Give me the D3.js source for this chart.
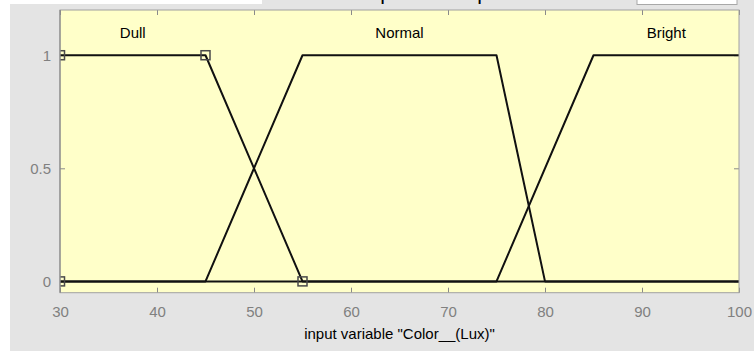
<!DOCTYPE html>
<html>
<head>
<meta charset="utf-8">
<script src="https://cdn.jsdelivr.net/npm/d3@7"></script>
<style>
  html, body { margin: 0; padding: 0; background: #ffffff; }
  svg { display: block; font-family: "Liberation Sans", Arial, Helvetica, sans-serif; }
</style>
</head>
<body>
<svg id="chart" width="754" height="351"></svg>
<script>
// Membership functions of the input variable "Color__(Lux)"
const xTicks = [30, 40, 50, 60, 70, 80, 90, 100];
const yTicks = [0, 0.5, 1];
const yTickLabels = ["0", "0.5", "1"];

const mfNames = ["Dull", "Normal", "Bright"];
const labelX = [37.5, 65, 92.5];   // centre of each plateau
const labelY = 1.1;

// trapezoid vertices of each membership function
const dullX = [30, 45, 55, 100];
const dullY = [1, 1, 0, 0];
const normalX = [30, 45, 55, 75, 80, 100];
const normalY = [0, 0, 1, 1, 0, 0];
const brightX = [30, 75, 85, 100];
const brightY = [0, 0, 1, 1];

// vertex markers of the selected function (Dull)
const markerX = [30, 30, 45, 55];
const markerY = [0, 1, 1, 0];

const axisTitle = 'input variable "Color__(Lux)"';
const panelTitle = "Membership function plots";

const svg = d3.select("#chart");
const W = 754, H = 351;
const plot = { left: 60, right: 739, top: 10, bottom: 292.7 };

// panel background
svg.append("rect").attr("width", W).attr("height", H).attr("fill", "#e4e4e4");
svg.append("rect").attr("x", 0).attr("y", 0).attr("width", 10).attr("height", H).attr("fill", "#ffffff");
svg.append("rect").attr("x", 0).attr("y", 0).attr("width", 262).attr("height", 4).attr("fill", "#ffffff");
svg.append("rect").attr("x", 637).attr("y", -2).attr("width", 100).attr("height", 6.5)
  .attr("fill", "#ffffff").attr("stroke", "#a8a8a8").attr("stroke-width", 1);

// panel title, sitting just above the top edge (only descenders reach into view)
svg.append("text").attr("x", 399).attr("y", 0.4)
  .attr("text-anchor", "middle").attr("font-size", 21).attr("fill", "#000")
  .text(panelTitle);

const x = d3.scaleLinear().domain([30, 100]).range([plot.left, plot.right]);
const y = d3.scaleLinear().domain([-0.05, 1.2]).range([plot.bottom, plot.top]);

// axes area
svg.append("rect")
  .attr("x", plot.left).attr("y", plot.top)
  .attr("width", plot.right - plot.left).attr("height", plot.bottom - plot.top)
  .attr("fill", "#ffffc9");

svg.append("defs").append("clipPath").attr("id", "plotClip")
  .append("rect")
  .attr("x", plot.left).attr("y", plot.top)
  .attr("width", plot.right - plot.left).attr("height", plot.bottom - plot.top);

const tickLen = 5;
const tickColor = "#8a8a8a";

// x axis (bottom) with mirrored ticks on top
const xAxis = svg.append("g").attr("transform", `translate(0,${plot.bottom})`)
  .call(d3.axisBottom(x).tickValues(xTicks).tickSize(-tickLen).tickPadding(14).tickFormat(d3.format("d")));
xAxis.select(".domain").remove();
xAxis.selectAll("line").attr("stroke", tickColor);
xAxis.selectAll("text").attr("font-size", 15).attr("fill", "#808080")
  .attr("font-family", "'Liberation Sans', Arial, Helvetica, sans-serif");

const xTop = svg.append("g").attr("transform", `translate(0,${plot.top})`)
  .call(d3.axisTop(x).tickValues(xTicks).tickSize(-tickLen).tickFormat(""));
xTop.select(".domain").remove();
xTop.selectAll("line").attr("stroke", tickColor);

// y axis (left) with mirrored ticks on right
const yAxis = svg.append("g").attr("transform", `translate(${plot.left},0)`)
  .call(d3.axisLeft(y).tickValues(yTicks).tickSize(-tickLen).tickPadding(9)
    .tickFormat((d, i) => yTickLabels[i]));
yAxis.select(".domain").remove();
yAxis.selectAll("line").attr("stroke", tickColor);
yAxis.selectAll("text").attr("font-size", 15).attr("fill", "#808080")
  .attr("font-family", "'Liberation Sans', Arial, Helvetica, sans-serif");

const yRight = svg.append("g").attr("transform", `translate(${plot.right},0)`)
  .call(d3.axisRight(y).tickValues(yTicks).tickSize(-tickLen).tickFormat(""));
yRight.select(".domain").remove();
yRight.selectAll("line").attr("stroke", tickColor);

// membership function curves
const line = d3.line().x(d => x(d[0])).y(d => y(d[1]));
const curves = [
  d3.zip(dullX, dullY),
  d3.zip(normalX, normalY),
  d3.zip(brightX, brightY)
];
const g = svg.append("g").attr("clip-path", "url(#plotClip)");
g.selectAll("path.mf").data(curves).join("path")
  .attr("class", "mf")
  .attr("d", line)
  .attr("fill", "none")
  .attr("stroke", "#111")
  .attr("stroke-width", 2)
  .attr("stroke-linejoin", "round");

// vertex markers
const mSize = 9;
g.selectAll("rect.marker").data(d3.zip(markerX, markerY)).join("rect")
  .attr("class", "marker")
  .attr("x", d => x(d[0]) - mSize / 2)
  .attr("y", d => y(d[1]) - mSize / 2)
  .attr("width", mSize).attr("height", mSize)
  .attr("fill", "none")
  .attr("stroke", "#4a4a4a")
  .attr("stroke-width", 1.5);

// function names
svg.selectAll("text.mfname").data(mfNames).join("text")
  .attr("class", "mfname")
  .attr("x", (d, i) => x(labelX[i]))
  .attr("y", y(labelY))
  .attr("dy", "0.35em")
  .attr("text-anchor", "middle")
  .attr("font-size", 15)
  .attr("fill", "#000")
  .text(d => d);

// axes box
svg.append("rect")
  .attr("x", plot.left).attr("y", plot.top)
  .attr("width", plot.right - plot.left).attr("height", plot.bottom - plot.top)
  .attr("fill", "none").attr("stroke", "#a0a0a0").attr("stroke-width", 1);
svg.append("line")
  .attr("x1", plot.left).attr("x2", plot.left)
  .attr("y1", plot.top).attr("y2", plot.bottom)
  .attr("stroke", "#808080").attr("stroke-width", 1);

// x axis title
svg.append("text")
  .attr("x", (plot.left + plot.right) / 2)
  .attr("y", 339)
  .attr("text-anchor", "middle")
  .attr("font-size", 15)
  .attr("fill", "#000")
  .text(axisTitle);
</script>
</body>
</html>
